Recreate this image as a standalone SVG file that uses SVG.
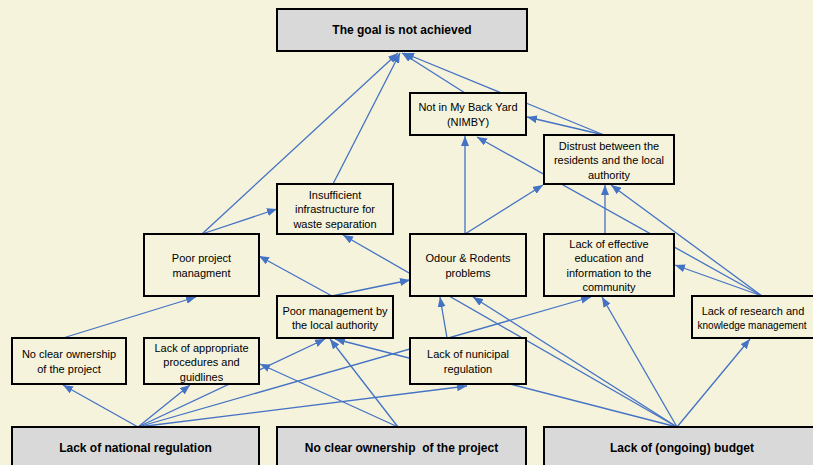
<svg xmlns="http://www.w3.org/2000/svg" width="813" height="465" viewBox="0 0 813 465">
<defs>
<style>
.bg{fill:#F5F3DC}
.box{fill:#F5F3DC;stroke:#000;stroke-width:2}
.gbox{fill:#D9D9D9;stroke:#000;stroke-width:2}
.t{font-family:"Liberation Sans",Arial,sans-serif;font-size:11px;fill:#000;text-anchor:middle}
.b{font-family:"Liberation Sans",Arial,sans-serif;font-size:12px;font-weight:bold;fill:#000;text-anchor:middle}
.e{stroke:#4472C4;stroke-width:1.3;fill:none;marker-end:url(#ah)}
</style>
<marker id="ah" markerUnits="userSpaceOnUse" markerWidth="10" markerHeight="8" refX="10" refY="4" orient="auto">
<path d="M0,0 L10,4 L0,8 z" fill="#4472C4"/>
</marker>
</defs>
<rect class="bg" x="0" y="0" width="813" height="465"/>

<g id="connectors">
<line class="e" x1="202" y1="234" x2="398" y2="53"/>
<line class="e" x1="333" y1="184" x2="400" y2="53"/>
<line class="e" x1="465" y1="93" x2="402" y2="53"/>
<line class="e" x1="604" y1="135" x2="404" y2="53"/>
<line class="e" x1="604" y1="135" x2="527" y2="117"/>
<line class="e" x1="465" y1="234" x2="465" y2="136"/>
<line class="e" x1="762" y1="296" x2="477" y2="137"/>
<line class="e" x1="465" y1="234" x2="543" y2="185"/>
<line class="e" x1="605" y1="234" x2="605" y2="185"/>
<line class="e" x1="762" y1="296" x2="611" y2="185"/>
<line class="e" x1="762" y1="296" x2="675" y2="265"/>
<line class="e" x1="202" y1="234" x2="277" y2="209"/>
<line class="e" x1="677" y1="427" x2="343" y2="235"/>
<line class="e" x1="332" y1="296" x2="259" y2="256"/>
<line class="e" x1="332" y1="296" x2="410" y2="280"/>
<line class="e" x1="447" y1="338" x2="440" y2="297"/>
<line class="e" x1="677" y1="427" x2="473" y2="297"/>
<line class="e" x1="677" y1="427" x2="602" y2="297"/>
<line class="e" x1="138" y1="427" x2="591" y2="297"/>
<line class="e" x1="677" y1="427" x2="750" y2="339"/>
<line class="e" x1="677" y1="427" x2="335" y2="339"/>
<line class="e" x1="138" y1="427" x2="325" y2="339"/>
<line class="e" x1="398" y1="427" x2="330" y2="339"/>
<line class="e" x1="398" y1="427" x2="260" y2="364"/>
<line class="e" x1="138" y1="427" x2="190" y2="385"/>
<line class="e" x1="138" y1="427" x2="63" y2="385"/>
<line class="e" x1="138" y1="427" x2="467" y2="386"/>
<line class="e" x1="63" y1="338" x2="196" y2="297"/>
</g>

<g id="goal">
<rect class="gbox" x="277" y="9" width="250" height="42"/>
<text class="b" x="402" y="34">The goal is not achieved</text>
</g>
<g id="nimby">
<rect class="box" x="410" y="93" width="116" height="42"/>
<text class="t" x="468" y="111">Not in My Back Yard</text>
<text class="t" x="468" y="125.5">(NIMBY)</text>
</g>
<g id="distrust">
<rect class="box" x="544" y="135" width="130" height="49"/>
<text class="t" x="609" y="149.5">Distrust between the</text>
<text class="t" x="609" y="164">residents and the local</text>
<text class="t" x="609" y="178.5">authority</text>
</g>
<g id="insufficient">
<rect class="box" x="277" y="184" width="116" height="50"/>
<text class="t" x="335" y="198.5">Insufficient</text>
<text class="t" x="335" y="213">infrastructure for</text>
<text class="t" x="335" y="227.5">waste separation</text>
</g>
<g id="poor-project">
<rect class="box" x="144" y="234" width="115" height="62"/>
<text class="t" x="201.5" y="262">Poor project</text>
<text class="t" x="201.5" y="276.5">managment</text>
</g>
<g id="odour">
<rect class="box" x="410" y="234" width="116" height="62"/>
<text class="t" x="468" y="262">Odour &amp; Rodents</text>
<text class="t" x="468" y="276.5">problems</text>
</g>
<g id="education">
<rect class="box" x="544" y="234" width="130" height="62"/>
<text class="t" x="609" y="247.5">Lack of effective</text>
<text class="t" x="609" y="262">education and</text>
<text class="t" x="609" y="276.5">information to the</text>
<text class="t" x="609" y="291">community</text>
</g>
<g id="research">
<rect class="box" x="692" y="296" width="130" height="42"/>
<text class="t" x="753" y="314.5">Lack of research and</text>
<text class="t" x="752" y="329" style="font-size:10px">knowledge management</text>
</g>
<g id="poor-mgmt-authority">
<rect class="box" x="277" y="296" width="116" height="42"/>
<text class="t" x="335" y="314.5">Poor management by</text>
<text class="t" x="335" y="329">the local authority</text>
</g>
<g id="no-ownership-small">
<rect class="box" x="12" y="338" width="114" height="46"/>
<text class="t" x="69" y="358">No clear ownership</text>
<text class="t" x="69" y="372.5">of the project</text>
</g>
<g id="procedures">
<rect class="box" x="144" y="338" width="115" height="46"/>
<text class="t" x="201.5" y="351.5">Lack of appropriate</text>
<text class="t" x="201.5" y="366">procedures and</text>
<text class="t" x="201.5" y="380.5">guidlines</text>
</g>
<g id="municipal">
<rect class="box" x="410" y="338" width="116" height="46"/>
<text class="t" x="468" y="358">Lack of nunicipal</text>
<text class="t" x="468" y="372.5">regulation</text>
</g>
<g id="national">
<rect class="gbox" x="12" y="427" width="247" height="60"/>
<text class="b" x="135.5" y="452">Lack of national regulation</text>
</g>
<g id="no-ownership">
<rect class="gbox" x="277" y="427" width="249" height="60"/>
<text class="b" x="401.5" y="452" xml:space="preserve">No clear ownership  of the project</text>
</g>
<g id="budget">
<rect class="gbox" x="544" y="427" width="280" height="60"/>
<text class="b" x="682" y="452">Lack of (ongoing) budget</text>
</g>
</svg>
